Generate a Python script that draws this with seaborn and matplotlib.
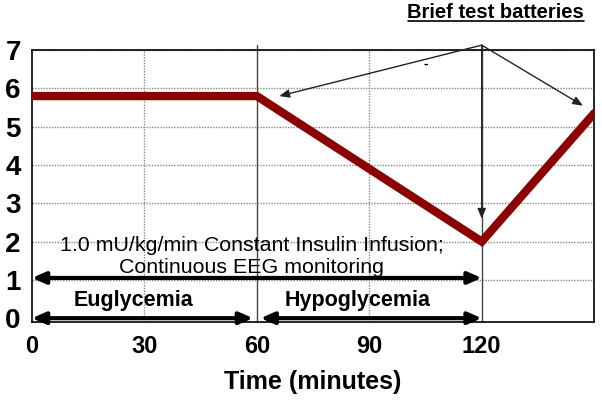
import matplotlib
matplotlib.use("Agg")
import matplotlib.pyplot as plt
import seaborn as sns
import pandas as pd
from matplotlib.ticker import MultipleLocator
from matplotlib.lines import Line2D

# Data
time_min = [0, 60, 120, 150]
glucose = [5.8, 5.8, 2.0, 5.35]
xticks = [0, 30, 60, 90, 120]
yticks = [0, 1, 2, 3, 4, 5, 6, 7]

sns.set_style("white")
plt.rcParams['font.family'] = ['Liberation Sans', 'DejaVu Sans']
plt.rcParams['text.color'] = 'black'

fig = plt.figure(figsize=(6.02, 4.01), dpi=100)
ax = fig.add_axes([0.053, 0.197, 0.934, 0.678])

df = pd.DataFrame({"t": time_min, "g": glucose})
sns.lineplot(data=df, x="t", y="g", ax=ax, color="#8B0000", linewidth=6,
             solid_joinstyle="miter", zorder=5)

ax.set_xlim(0, 150)
ax.set_ylim(-0.1, 7)
ax.set_xticks(xticks)
ax.set_yticks(yticks)
ax.xaxis.set_minor_locator(MultipleLocator(5))
ax.yaxis.set_minor_locator(MultipleLocator(0.2))
ax.tick_params(axis='x', which='major', direction='in', length=0, pad=9, labelcolor='black')
ax.tick_params(axis='y', which='major', direction='in', length=0, pad=8, labelcolor='black')
ax.tick_params(axis='both', which='minor', direction='in', length=5, width=1, color='black')
for lab in ax.get_yticklabels():
    lab.set_fontsize(20); lab.set_fontweight('bold')
for lab in ax.get_xticklabels():
    lab.set_fontsize(17); lab.set_fontweight('bold')

for s in ax.spines.values():
    s.set_color('black'); s.set_linewidth(1.2)

# grid
for y in yticks[1:]:
    ax.axhline(y, color='#888888', linestyle=(0, (1, 1)), linewidth=1, zorder=1)
for x in [30, 90]:
    ax.axvline(x, color='#888888', linestyle=(0, (1, 1)), linewidth=1, zorder=1)
for x in [60, 120]:
    ax.plot([x, x], [-0.1, 7.13], color='#444444', linewidth=1, zorder=2, clip_on=False)

ax.set_xlabel("Time (minutes)", fontsize=18, fontweight='bold', labelpad=9, color='black')
ax.set_ylabel("")

# double arrows
arw = dict(arrowstyle='<|-|>,head_length=0.8,head_width=0.35', color='black', lw=3,
           shrinkA=0, shrinkB=0)
ax.annotate("", xy=(120, 1.05), xytext=(0, 1.05), arrowprops=arw, zorder=6)
ax.annotate("", xy=(59, 0), xytext=(0, 0), arrowprops=arw, zorder=6, annotation_clip=False)
ax.annotate("", xy=(120, 0), xytext=(61, 0), arrowprops=arw, zorder=6, annotation_clip=False)

ax.text(58.7, 1.6, "1.0 mU/kg/min Constant Insulin Infusion;\nContinuous EEG monitoring",
        ha='center', va='center', fontsize=15.4, linespacing=1.2, zorder=7, color='black')
ax.text(27, 0.47, "Euglycemia", ha='center', va='center', fontsize=15.5, fontweight='bold')
ax.text(87, 0.47, "Hypoglycemia", ha='center', va='center', fontsize=15.5, fontweight='bold')

# thin arrows from top
apex = (120, 7.13)
thin = dict(arrowstyle='-|>,head_length=0.6,head_width=0.25', color='#222222', lw=1,
            shrinkA=0, shrinkB=0)
for tgt in [(66, 5.8), (120, 2.6), (147, 5.55)]:
    ax.annotate("", xy=tgt, xytext=apex, arrowprops=thin, annotation_clip=False, zorder=6)
ax.text(105, 6.65, "-", ha='center', va='center', fontsize=10, fontweight='bold')

# title-like label
fig.text(0.823, 0.968, "Brief test batteries", ha='center', va='center',
         fontsize=14.5, fontweight='bold')
fig.add_artist(Line2D([0.678, 0.970], [0.947, 0.947], color='black', lw=1.2,
                      transform=fig.transFigure))

fig.savefig("out.png", dpi=100)
